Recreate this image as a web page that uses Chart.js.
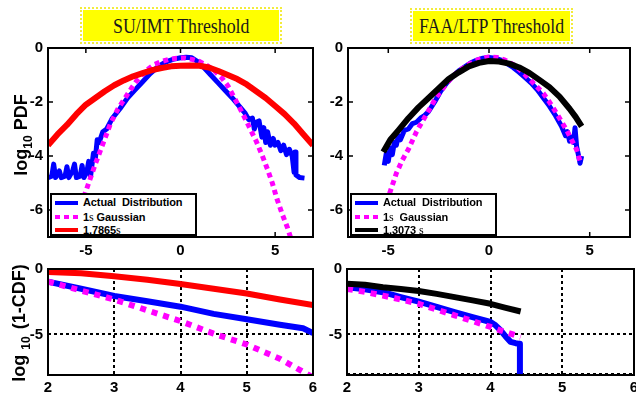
<!DOCTYPE html>
<html>
<head>
<meta charset="utf-8">
<script src="https://cdn.jsdelivr.net/npm/chart.js@4.4.1/dist/chart.umd.min.js"></script>
<style>
  body { margin: 0; background: #fff; }
  #page { position: relative; width: 636px; height: 397px; overflow: hidden; font-family: "Liberation Sans", Arial, sans-serif; }
  canvas { position: absolute; }
  .title { position: absolute; box-sizing: border-box; border: 2px dotted #f3ec3a; padding: 1px; }
  .title div { width: 100%; height: 100%; background: #ffff00; display: flex; align-items: center; justify-content: center; }
  .title span { font-family: "Liberation Serif", "Times New Roman", serif; font-size: 22px; color: #1a1a1a; transform: scaleX(0.81); white-space: nowrap; }
  .ylab { position: absolute; font-weight: bold; font-size: 18px; white-space: nowrap; transform: translate(-50%, -50%) rotate(-90deg); }
  .ylab sub { font-size: 12px; }
  .legend { position: absolute; box-sizing: border-box; border: 2px solid #000; background: #fff; overflow: hidden; font-weight: bold; font-size: 11px; }
  .legend .row { position: absolute; left: 0; height: 12px; width: 100%; }
  .legend .swatch { position: absolute; left: 3px; top: 4px; width: 23px; height: 4px; }
  .legend .txt { position: absolute; left: 31px; top: -1px; white-space: pre; letter-spacing: -0.1px; }
  .legend .sig { font-family: "Liberation Serif", serif; font-weight: normal; font-size: 12px; }
</style>
</head>
<body>
<div id="page">
  <div class="title" style="left:80px; top:7px; width:202px; height:37px;"><div><span>SU/IMT Threshold</span></div></div>
  <div class="title" style="left:410px; top:8px; width:163px; height:36px;"><div><span>FAA/LTP Threshold</span></div></div>

  <canvas id="pdfSu" width="320" height="225" style="left:0; top:40px;"></canvas>
  <canvas id="pdfFaa" width="318" height="225" style="left:318px; top:40px;"></canvas>
  <canvas id="tailSu" width="320" height="135" style="left:0; top:262px;"></canvas>
  <canvas id="tailFaa" width="318" height="135" style="left:318px; top:262px;"></canvas>

  <div class="ylab" style="left:23px; top:135px;">log<sub>10</sub> PDF</div>
  <div class="ylab" style="left:21px; top:323px;">log<sub style="margin:0 7px 0 5px;">10</sub>(1-CDF)</div>

  <div class="legend" style="left:50px; top:193px; width:147px; height:43px;">
    <div class="row" style="top:2px;"><div class="swatch" style="background:#0000ff;"></div><div class="txt">Actual  Distribution</div></div>
    <div class="row" style="top:16px;"><div class="swatch" style="background:repeating-linear-gradient(90deg,#ff00ff 0 5px,transparent 5px 9px);"></div><div class="txt">1<span class="sig">s</span> Gaussian</div></div>
    <div class="row" style="top:29px;"><div class="swatch" style="background:#ff0000;"></div><div class="txt">1.7865<span class="sig">s</span></div></div>
  </div>
  <div class="legend" style="left:350px; top:193px; width:147px; height:43px;">
    <div class="row" style="top:2px;"><div class="swatch" style="background:#0000ff;"></div><div class="txt">Actual  Distribution</div></div>
    <div class="row" style="top:16px;"><div class="swatch" style="background:repeating-linear-gradient(90deg,#ff00ff 0 5px,transparent 5px 9px);"></div><div class="txt">1<span class="sig">s</span>  Gaussian</div></div>
    <div class="row" style="top:29px;"><div class="swatch" style="background:#000;"></div><div class="txt">1.3073 <span class="sig">s</span></div></div>
  </div>
</div>

<script>
// ---- SU/IMT threshold, log10 PDF (top left) ----
const suActualX = [-7.0,-6.8,-6.7,-6.6,-6.4,-6.3,-6.1,-6.0,-5.9,-5.7,-5.6,-5.5,-5.3,-5.2,-5.1,-4.95,-4.85,-4.75,-4.6,-4.5,-4.4,-4.3,-4.1,-3.9,-3.6,-3.2,-2.8,-2.4,-2.0,-1.6,-1.2,-0.8,-0.4,0,0.3,0.6,0.9,1.2,1.6,2.0,2.4,2.8,3.1,3.4,3.6,3.8,3.9,4.0,4.15,4.3,4.4,4.5,4.6,4.75,4.9,5.0,5.15,5.3,5.45,5.6,5.75,5.9,6.0,6.05,6.1,6.3,6.55];
const suActualY = [-4.8,-4.75,-4.3,-4.8,-4.55,-4.8,-4.75,-4.4,-4.8,-4.55,-4.3,-4.8,-4.75,-4.35,-4.8,-4.6,-4.2,-4.75,-3.9,-4.1,-3.4,-3.5,-3.1,-3.0,-2.6,-2.25,-1.85,-1.55,-1.25,-0.95,-0.7,-0.52,-0.42,-0.36,-0.34,-0.36,-0.5,-0.7,-1.0,-1.3,-1.6,-1.9,-2.15,-2.4,-2.65,-2.6,-3.0,-2.75,-2.7,-3.3,-2.95,-3.5,-3.1,-3.6,-3.35,-3.6,-3.5,-3.8,-3.6,-3.95,-3.75,-4.0,-4.6,-3.85,-4.7,-4.8,-4.82];
const suGaussX = [-5.85,-5.5,-5.0,-4.5,-4.1,-3.7,-3.3,-3.0,-2.6,-2.3,-1.8,-1.4,-1.0,-0.6,-0.2,0.2,0.6,1.0,1.4,1.8,2.2,2.5,3.0,3.3,3.6,4.0,4.3,4.6,4.85,5.1,5.4,5.65,5.9];
const suGaussY = [-7.1,-6.35,-5.3,-4.3,-3.55,-2.8,-2.25,-1.93,-1.5,-1.2,-0.83,-0.62,-0.5,-0.42,-0.38,-0.37,-0.42,-0.5,-0.65,-0.85,-1.12,-1.4,-2.05,-2.45,-2.88,-3.45,-3.95,-4.5,-5.0,-5.6,-6.2,-6.65,-7.2];
const suFitX = [-7,-6.5,-6,-5.5,-5,-4.5,-4,-3.5,-3,-2.5,-2,-1.5,-1,-0.5,0,0.5,1,1.5,2,2.5,3,3.5,4,4.5,5,5.5,6,6.5,7];
const suFitY = [-3.6,-3.2,-2.85,-2.45,-2.1,-1.85,-1.6,-1.38,-1.2,-1.05,-0.93,-0.82,-0.74,-0.68,-0.66,-0.65,-0.66,-0.72,-0.85,-1.0,-1.15,-1.35,-1.6,-1.85,-2.15,-2.45,-2.8,-3.2,-3.6];

// ---- FAA/LTP threshold, log10 PDF (top right) ----
const faaActualX = [-5.2,-5.1,-5.0,-4.9,-4.8,-4.7,-4.6,-4.5,-4.4,-4.2,-4.0,-3.8,-3.6,-3.4,-3.2,-3.0,-2.7,-2.4,-2.1,-1.8,-1.5,-1.2,-0.9,-0.6,-0.3,0,0.3,0.6,0.9,1.2,1.5,1.8,2.1,2.4,2.7,3.0,3.3,3.6,3.8,3.9,4.0,4.1,4.2,4.27,4.35,4.45,4.52,4.6];
const faaActualY = [-4.35,-3.9,-4.2,-3.7,-3.95,-3.5,-3.6,-3.25,-3.4,-3.05,-3.0,-2.8,-2.75,-2.6,-2.5,-2.35,-2.0,-1.6,-1.3,-1.05,-0.85,-0.7,-0.55,-0.45,-0.38,-0.35,-0.38,-0.45,-0.58,-0.72,-0.9,-1.1,-1.3,-1.55,-1.85,-2.15,-2.5,-2.9,-3.25,-3.1,-3.45,-3.3,-3.5,-2.95,-3.65,-4.0,-4.27,-4.0];
const faaGaussX = [-5.5,-5.2,-4.92,-4.6,-4.3,-4.0,-3.6,-3.1,-2.6,-2.0,-1.5,-1.0,-0.5,0,0.4,0.8,1.3,1.8,2.2,2.7,3.0,3.4,3.85,4.1,4.36,4.55];
const faaGaussY = [-7.0,-6.0,-5.35,-4.64,-4.15,-3.75,-3.1,-2.45,-1.8,-1.22,-0.85,-0.6,-0.42,-0.33,-0.35,-0.45,-0.65,-1.0,-1.3,-1.68,-2.0,-2.47,-3.04,-3.4,-3.78,-4.27];
const faaFitX = [-5.25,-4.9,-4.5,-4.0,-3.5,-3.0,-2.5,-2.0,-1.5,-1.0,-0.5,0,0.5,1.0,1.5,2.0,2.5,3.0,3.5,4.0,4.3,4.6];
const faaFitY = [-3.85,-3.4,-3.05,-2.6,-2.2,-1.85,-1.5,-1.15,-0.9,-0.68,-0.55,-0.48,-0.5,-0.58,-0.72,-0.92,-1.18,-1.45,-1.8,-2.25,-2.55,-2.9];

// ---- log10(1-CDF) tails (bottom row) ----
const suTailActualX = [2,2.5,3,3.5,4,4.5,5,5.5,5.85,6];
const suTailActualY = [-0.96,-1.51,-2.06,-2.47,-2.88,-3.43,-3.84,-4.26,-4.53,-4.89];
const suTailGaussX = [2,2.5,3,3.5,4,4.5,5,5.5,5.97];
const suTailGaussY = [-0.96,-1.65,-2.33,-3.16,-3.98,-4.94,-5.77,-6.86,-8.2];
const suTailFitX = [2,2.5,3,3.5,4,4.5,5,5.5,6];
const suTailFitY = [-0.22,-0.33,-0.55,-0.82,-1.15,-1.51,-1.87,-2.33,-2.75];

const faaTailActualX = [2,2.25,2.5,2.75,3,3.25,3.5,3.75,4,4.07,4.14,4.21,4.28,4.35,4.41,4.41];
const faaTailActualY = [-1.39,-1.55,-1.77,-2.15,-2.5,-2.9,-3.29,-3.67,-4.05,-4.3,-4.68,-5.15,-5.57,-5.67,-5.72,-8.3];
const faaTailGaussX = [2,2.25,2.5,2.75,3,3.25,3.5,3.75,4,4.2,4.42];
const faaTailGaussY = [-1.52,-1.75,-2.03,-2.33,-2.66,-3.1,-3.54,-3.98,-4.43,-4.8,-5.19];
const faaTailFitX = [2,2.25,2.5,2.75,3,3.25,3.5,3.75,4,4.2,4.42];
const faaTailFitY = [-1.12,-1.2,-1.39,-1.52,-1.68,-1.9,-2.15,-2.4,-2.66,-2.95,-3.25];

// tick labels
const pdfXTicks = [-5, 0, 5];
const pdfYTicks = [0, -2, -4, -6];
const tailXTicks = [2, 3, 4, 5, 6];
const tailYTicks = [0, -5];
const faaTailYTicks = [0, -5, -8];

const BLUE = '#0000ff', MAGENTA = '#ff00ff', RED = '#ff0000', BLACK = '#000000';
const tickFont = { family: 'Liberation Sans', size: 15, weight: 'bold' };

function pts(xs, ys) {
    return xs.map((x, i) => ({ x: x, y: ys[i] }));
}

function line(label, xs, ys, color, width, order, dash) {
    return {
        label: label,
        data: pts(xs, ys),
        borderColor: color,
        backgroundColor: color,
        borderWidth: width,
        borderDash: dash || [],
        borderCapStyle: 'butt',
        borderJoinStyle: 'round',
        pointRadius: 0,
        tension: 0,
        fill: false,
        clip: 0,
        order: order
    };
}

// black box round the plot area, plus the small inward ticks of the upper plots
const frame = {
    id: 'frame',
    afterDatasetsDraw(chart, args, opts) {
        const { ctx, chartArea: a, scales } = chart;
        ctx.save();
        ctx.strokeStyle = '#000';
        if (opts.inner) {
            ctx.lineWidth = 1.5;
            ctx.beginPath();
            scales.x.ticks.forEach(t => {
                const p = scales.x.getPixelForValue(t.value);
                ctx.moveTo(p, a.top); ctx.lineTo(p, a.top + 5);
                ctx.moveTo(p, a.bottom); ctx.lineTo(p, a.bottom - 5);
            });
            scales.y.ticks.forEach(t => {
                const p = scales.y.getPixelForValue(t.value);
                ctx.moveTo(a.left, p); ctx.lineTo(a.left + 5, p);
                ctx.moveTo(a.right, p); ctx.lineTo(a.right - 5, p);
            });
            ctx.stroke();
        }
        ctx.lineWidth = 2;
        ctx.strokeRect(a.left, a.top, a.right - a.left, a.bottom - a.top);
        ctx.restore();
    }
};

function makeChart(id, datasets, c) {
    const gridOpts = c.grid
        ? { display: true, color: '#000', lineWidth: 2, drawTicks: false }
        : { display: false, drawTicks: false };
    return new Chart(document.getElementById(id), {
        type: 'line',
        data: { datasets: datasets },
        options: {
            responsive: false,
            animation: false,
            events: [],
            layout: { padding: c.pad },
            plugins: { legend: { display: false }, tooltip: { enabled: false }, frame: { inner: !c.grid } },
            scales: {
                x: {
                    type: 'linear', min: c.xMin, max: c.xMax,
                    afterBuildTicks: s => { s.ticks = c.xTicks.map(v => ({ value: v })); },
                    afterFit: s => { s.height = c.xH; s.paddingLeft = 0; s.paddingRight = 0; },
                    grid: gridOpts,
                    border: { display: false, dash: [3, 3] },
                    ticks: { color: '#000', font: tickFont, padding: c.xPad, maxRotation: 0, autoSkip: false }
                },
                y: {
                    type: 'linear', min: c.yMin, max: c.yMax,
                    afterBuildTicks: s => { s.ticks = c.yTicks.map(v => ({ value: v })); },
                    afterFit: s => { s.width = c.yW; s.paddingTop = 0; s.paddingBottom = 0; },
                    grid: gridOpts,
                    border: { display: false, dash: [3, 3] },
                    ticks: {
                        color: '#000', font: tickFont, padding: 5, autoSkip: false,
                        callback: v => (c.hidden && c.hidden.includes(v)) ? '' : v
                    }
                }
            }
        },
        plugins: [frame]
    });
}

document.addEventListener('DOMContentLoaded', () => {
    // PDF plots
    makeChart('pdfSu', [
        line('Actual Distribution', suActualX, suActualY, BLUE, 5, 3),
        line('1s Gaussian', suGaussX, suGaussY, MAGENTA, 5, 2, [5, 4]),
        line('1.7865s', suFitX, suFitY, RED, 6, 1)
    ], { pad: { left: 0, top: 8, right: 7, bottom: 0 }, xMin: -7, xMax: 7, yMin: -7, yMax: 0,
         xTicks: pdfXTicks, yTicks: pdfYTicks, xH: 28, yW: 48, xPad: 5, grid: false });

    makeChart('pdfFaa', [
        line('Actual Distribution', faaActualX, faaActualY, BLUE, 5, 3),
        line('1s Gaussian', faaGaussX, faaGaussY, MAGENTA, 5, 2, [5, 4]),
        line('1.3073 s', faaFitX, faaFitY, BLACK, 6, 1)
    ], { pad: { left: 0, top: 8, right: 6, bottom: 0 }, xMin: -7, xMax: 7, yMin: -7, yMax: 0,
         xTicks: pdfXTicks, yTicks: pdfYTicks, xH: 28, yW: 30, xPad: 5, grid: false });

    // tail plots
    makeChart('tailSu', [
        line('Actual Distribution', suTailActualX, suTailActualY, BLUE, 6, 3),
        line('1s Gaussian', suTailGaussX, suTailGaussY, MAGENTA, 6, 2, [6, 6]),
        line('1.7865s', suTailFitX, suTailFitY, RED, 6, 1)
    ], { pad: { left: 0, top: 7, right: 7, bottom: 0 }, xMin: 2, xMax: 6, yMin: -8.1, yMax: 0,
         xTicks: tailXTicks, yTicks: tailYTicks, xH: 22, yW: 48, xPad: 4, grid: true });

    makeChart('tailFaa', [
        line('Actual Distribution', faaTailActualX, faaTailActualY, BLUE, 6, 3),
        line('1s Gaussian', faaTailGaussX, faaTailGaussY, MAGENTA, 6, 2, [6, 6]),
        line('1.3073 s', faaTailFitX, faaTailFitY, BLACK, 6, 1)
    ], { pad: { left: 0, top: 7, right: 2, bottom: 0 }, xMin: 2, xMax: 6, yMin: -8.1, yMax: 0,
         xTicks: tailXTicks, yTicks: faaTailYTicks, hidden: [-8], xH: 22, yW: 29, xPad: 4, grid: true });
});
</script>
</body>
</html>
